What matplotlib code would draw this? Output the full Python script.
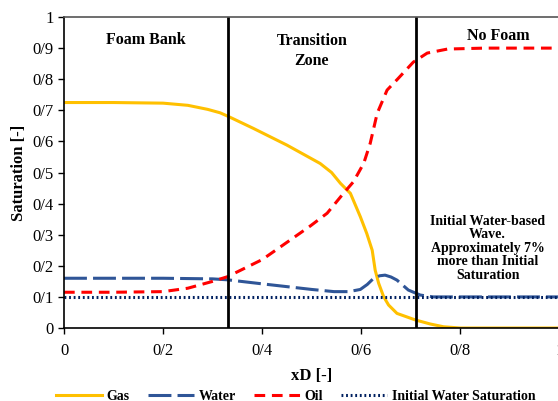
import matplotlib.pyplot as plt
from matplotlib.ticker import FuncFormatter

# --------------------------------------------------------------------
# Data
# --------------------------------------------------------------------
gas_x = [0.0, 0.10, 0.20, 0.25, 0.29, 0.315, 0.332, 0.382, 0.45, 0.517, 0.540, 0.558, 0.578, 0.598, 0.611, 0.622, 0.628, 0.635, 0.645, 0.655, 0.672, 0.709, 0.739, 0.766, 0.80, 1.0]
gas_y = [0.725, 0.725, 0.723, 0.716, 0.703, 0.692, 0.680, 0.642, 0.588, 0.529, 0.500, 0.465, 0.433, 0.358, 0.304, 0.250, 0.186, 0.144, 0.101, 0.074, 0.047, 0.026, 0.013, 0.004, 0.0, 0.0]

water_x = [0.0, 0.20, 0.30, 0.33, 0.40, 0.50, 0.545, 0.575, 0.598, 0.612, 0.625, 0.637, 0.648, 0.660, 0.672, 0.695, 0.719, 0.745, 0.80, 1.0]
water_y = [0.160, 0.160, 0.158, 0.155, 0.142, 0.124, 0.117, 0.117, 0.124, 0.140, 0.160, 0.168, 0.170, 0.164, 0.154, 0.122, 0.106, 0.100, 0.100, 0.100]

oil_x = [0.0, 0.10, 0.20, 0.25, 0.30, 0.33, 0.40, 0.436, 0.497, 0.531, 0.564, 0.584, 0.605, 0.618, 0.632, 0.652, 0.673, 0.705, 0.733, 0.774, 0.85, 1.0]
oil_y = [0.115, 0.115, 0.117, 0.128, 0.150, 0.165, 0.220, 0.260, 0.328, 0.369, 0.433, 0.470, 0.530, 0.594, 0.690, 0.765, 0.800, 0.855, 0.884, 0.897, 0.900, 0.900]

init_water_x = [0.0, 1.0]
init_water_y = [0.1, 0.1]

zone_bounds = [0.331, 0.711]

# --------------------------------------------------------------------
# Figure
# --------------------------------------------------------------------
plt.rcParams['font.family'] = ['Liberation Serif', 'DejaVu Serif']

fig = plt.figure(figsize=(5.58, 4.01), dpi=100)
ax = fig.add_axes([0.1147, 0.182, 0.888, 0.7756])

lw = 2.2
ax.plot(gas_x, gas_y, color='#FFC000', linewidth=lw, label='Gas')
ax.plot(water_x, water_y, color='#2F5597', linewidth=lw, dashes=(7.5, 2), label='Water')
ax.plot(oil_x, oil_y, color='#FF0000', linewidth=lw, dashes=(3.5, 2.2), label='Oil')
ax.plot(init_water_x, init_water_y, color='#002060', linewidth=lw, linestyle=(0, (0.6, 0.9)),
        label='Initial Water Saturation')

for xb in zone_bounds:
    ax.axvline(xb, color='black', linewidth=2)

# --------------------------------------------------------------------
# Zone labels
# --------------------------------------------------------------------
fs = 11.5
ax.text(0.166, 0.926, 'Foam Bank', ha='center', va='center', fontsize=fs, fontweight='bold')
ax.text(0.50, 0.89, 'Transition\nZone', ha='center', va='center', fontsize=fs, fontweight='bold',
        linespacing=1.3)
ax.text(0.877, 0.94, 'No Foam', ha='center', va='center', fontsize=fs, fontweight='bold')
ax.text(0.855, 0.257, 'Initial Water-based\nWave.\nApproximately 7%\nmore than Initial\nSaturation',
        ha='center', va='center', fontsize=10, fontweight='bold', linespacing=1.05)

# --------------------------------------------------------------------
# Axes
# --------------------------------------------------------------------
ax.set_xlim(0, 1)
ax.set_ylim(0, 1)
ax.set_xticks([0, 0.2, 0.4, 0.6, 0.8, 1.0])
ax.set_yticks([i / 10 for i in range(11)])
slash = FuncFormatter(lambda v, p: ('%g' % round(v, 2)).replace('.', '/'))
ax.xaxis.set_major_formatter(slash)
ax.yaxis.set_major_formatter(slash)
ax.tick_params(labelsize=12, direction='out', length=4, width=1)
ax.tick_params(axis='x', pad=7)
for s in ax.spines.values():
    s.set_linewidth(1.2)
ax.spines['top'].set_color('#555555')

ax.set_xlabel('xD [-]', fontsize=12, fontweight='bold', labelpad=6)
ax.set_ylabel('Saturation [-]', fontsize=12, fontweight='bold', labelpad=4)

fig.legend(loc='lower center', bbox_to_anchor=(0.53, -0.035), ncol=4, frameon=False,
           prop={'weight': 'bold', 'size': 10}, handlelength=3.3, columnspacing=1.3,
           handletextpad=0.35)

plt.savefig('out.png', dpi=100)
plt.close()
